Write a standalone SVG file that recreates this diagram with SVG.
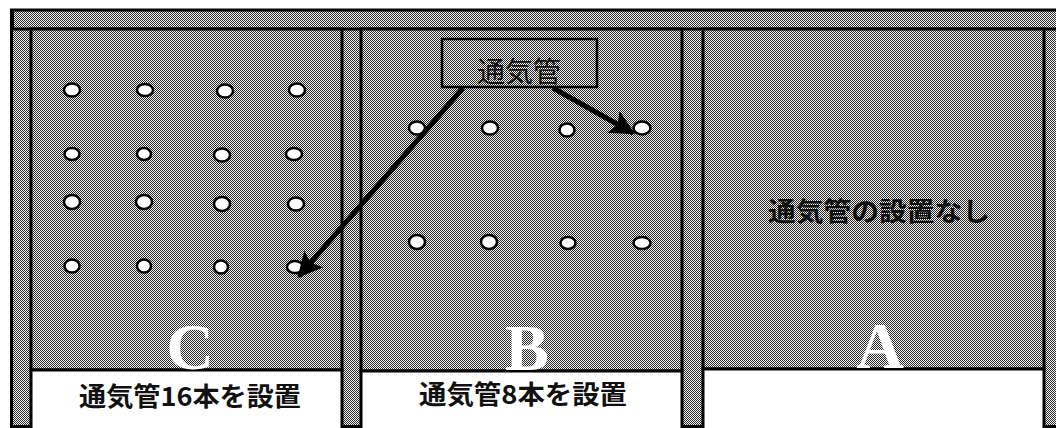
<svg xmlns="http://www.w3.org/2000/svg" width="1056" height="428" viewBox="0 0 1056 428">
<style>
.ln{stroke:#000;stroke-width:3;fill:none}
.pf{stroke:#000;stroke-width:3;fill:url(#dither)}
.wf{stroke:#000;stroke-width:3;fill:#fff}
.dot{fill:#fff;stroke:#000;stroke-width:2.5}
.lbl{font-family:"Noto Sans CJK JP","Noto Sans",sans-serif;font-weight:bold;font-size:26px;fill:#111;text-anchor:middle}
.big{font-family:"Liberation Serif",serif;font-weight:bold;font-size:66px;fill:#fff;text-anchor:middle}
.conn{stroke:#000;stroke-width:5;fill:none}
</style>
<defs>
<pattern id="dither" width="2" height="2" patternUnits="userSpaceOnUse">
<rect width="2" height="2" fill="#f4f4f4"/>
<rect x="0" y="0" width="1" height="1" fill="#2a2a2a"/>
<rect x="1" y="1" width="1" height="1" fill="#2a2a2a"/>
</pattern>
<marker id="ah" viewBox="0 0 10 10" refX="9" refY="5" markerWidth="7" markerHeight="5" orient="auto" markerUnits="strokeWidth">
<path d="M0,0 L10,5 L0,10 L2,5 z" fill="#000"/>
</marker>
</defs>
<rect width="1056" height="428" fill="#fff"/>
<g id="frame">
<rect x="10" y="10" width="1046" height="418" fill="url(#dither)"/>
<line x1="10" y1="10" x2="1056" y2="10" class="ln"/>
<line x1="10" y1="29" x2="1056" y2="29" class="ln"/>
<line x1="11.5" y1="10" x2="11.5" y2="428" class="ln"/>
<rect x="10" y="10" width="4" height="19" fill="#000"/>
<line x1="10" y1="426.5" x2="1056" y2="426.5" class="ln"/>
</g>
<g id="panel-c">
<rect x="31" y="29" width="311" height="341" class="pf"/>
<rect x="31" y="370" width="311" height="60" class="wf"/>
<text x="190" y="369" class="big">C</text>
<text x="190" y="406" class="lbl" textLength="222" lengthAdjust="spacingAndGlyphs">通気管16本を設置</text>
<g id="holes-c">
<ellipse cx="72" cy="90" rx="8" ry="6.5" class="dot"/>
<ellipse cx="145" cy="90" rx="8" ry="6" class="dot"/>
<ellipse cx="225" cy="91" rx="8" ry="6.5" class="dot"/>
<ellipse cx="297" cy="90" rx="8" ry="6.5" class="dot"/>
<ellipse cx="72" cy="154" rx="7.5" ry="6" class="dot"/>
<ellipse cx="144" cy="154" rx="7" ry="6" class="dot"/>
<ellipse cx="222" cy="155" rx="8" ry="6.5" class="dot"/>
<ellipse cx="294" cy="154" rx="8" ry="6" class="dot"/>
<ellipse cx="72" cy="202" rx="8" ry="7" class="dot"/>
<ellipse cx="144" cy="202" rx="8" ry="7" class="dot"/>
<ellipse cx="222" cy="204" rx="8" ry="7" class="dot"/>
<ellipse cx="296" cy="204" rx="8" ry="6.5" class="dot"/>
<ellipse cx="72" cy="266" rx="7.5" ry="6.5" class="dot"/>
<ellipse cx="144" cy="266" rx="7" ry="6.5" class="dot"/>
<ellipse cx="221" cy="267" rx="7" ry="6.5" class="dot"/>
<ellipse cx="295" cy="267" rx="8" ry="6" class="dot"/>
</g>
</g>
<g id="panel-b">
<rect x="361" y="29" width="321" height="342" class="pf"/>
<rect x="361" y="371" width="321" height="59" class="wf"/>
<text x="527" y="370" class="big">B</text>
<text x="523" y="404" class="lbl" textLength="208" lengthAdjust="spacingAndGlyphs">通気管8本を設置</text>
<g id="holes-b">
<ellipse cx="417" cy="128" rx="8" ry="6.5" class="dot"/>
<ellipse cx="490" cy="128" rx="8" ry="6.5" class="dot"/>
<ellipse cx="567" cy="130" rx="7.5" ry="6.5" class="dot"/>
<ellipse cx="642" cy="128" rx="8.5" ry="6.5" class="dot"/>
<ellipse cx="417" cy="242" rx="8" ry="7" class="dot"/>
<ellipse cx="489" cy="242" rx="8" ry="7" class="dot"/>
<ellipse cx="568" cy="243" rx="7.5" ry="6" class="dot"/>
<ellipse cx="642" cy="243" rx="8.5" ry="6" class="dot"/>
</g>
</g>
<g id="panel-a">
<rect x="703" y="29" width="341" height="340" class="pf"/>
<rect x="703" y="369" width="341" height="61" class="wf"/>
<text x="880" y="368" class="big">A</text>
<text x="879" y="221" class="lbl" textLength="222" lengthAdjust="spacingAndGlyphs">通気管の設置なし</text>
</g>
<g id="label-tsukikan">
<rect x="442" y="39" width="155" height="48" fill="url(#dither)" stroke="#000" stroke-width="2.5"/>
<text x="519" y="82" font-family="Noto Sans CJK JP, sans-serif" font-size="28" fill="#111" text-anchor="middle">通気管</text>
</g>
<g id="connectors">
<line x1="463" y1="88" x2="299" y2="276" class="conn" marker-end="url(#ah)"/>
<line x1="553" y1="88" x2="633" y2="133" class="conn" marker-end="url(#ah)"/>
</g>
</svg>
